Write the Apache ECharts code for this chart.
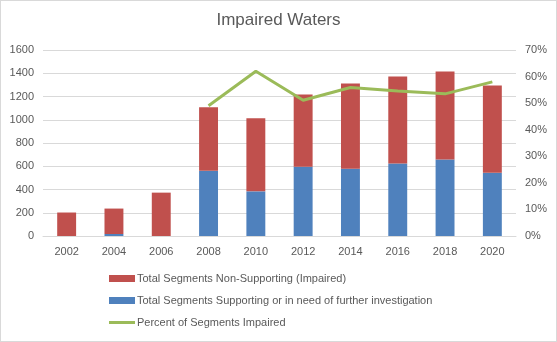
<!DOCTYPE html>
<html><head><meta charset="utf-8">
<script src="https://cdn.jsdelivr.net/npm/echarts@6/dist/echarts.min.js"></script>
<style>html,body{margin:0;padding:0;background:#fff}#c{width:557px;height:342px;box-sizing:border-box;border:1px solid #d9d9d9}</style>
</head><body><div id="c"></div>
<script>
const years = ['2002','2004','2006','2008','2010','2012','2014','2016','2018','2020'];
const nonSupporting = [202, 219, 373, 546, 629, 623, 734, 749, 757, 751];
const supporting = [0, 17, 0, 561, 384, 595, 578, 623, 658, 544];
const percentImpaired = [null, null, null, 0.49, 0.62, 0.511, 0.559, 0.546, 0.535, 0.58];
const leftTicks = {min: 0, max: 1600, interval: 200};
const rightTicks = {min: 0, max: 0.7, interval: 0.1};
const names = ['Total Segments Non-Supporting (Impaired)', 'Total Segments Supporting or in need of further investigation', 'Percent of Segments Impaired'];

const font = 'Liberation Sans, Arial, sans-serif';
const chart = echarts.init(document.getElementById('c'));
chart.setOption({
  animation: false,
  textStyle: {fontFamily: font},
  title: {text: 'Impaired Waters', left: 'center', top: 6, textStyle: {fontFamily: font, fontSize: 17, fontWeight: 'normal', color: '#595959'}},
  grid: {left: 42, right: 40, top: 49, bottom: 105},
  legend: {
    orient: 'vertical', left: 103, top: 267, itemGap: 11, itemWidth: 26, itemHeight: 7,
    data: [{name: names[0], icon: 'rect'}, {name: names[1], icon: 'rect'}, {name: names[2], icon: 'path://M0,0h26v3h-26z'}],
    textStyle: {fontFamily: font, fontSize: 11, color: '#595959', padding: [0,0,0,-3]}
  },
  xAxis: {type: 'category', data: years, axisTick: {show: false},
    axisLine: {lineStyle: {color: '#d9d9d9'}},
    axisLabel: {color: '#595959', fontSize: 11, margin: 10, fontFamily: font}},
  yAxis: [
    {type: 'value', min: leftTicks.min, max: leftTicks.max, interval: leftTicks.interval,
      axisLabel: {color: '#595959', fontSize: 11, margin: 9, fontFamily: font, formatter: v => String(v)},
      splitLine: {lineStyle: {color: '#d9d9d9'}}, axisLine: {show: false}, axisTick: {show: false}},
    {type: 'value', min: rightTicks.min, max: rightTicks.max, interval: rightTicks.interval, position: 'right',
      axisLabel: {color: '#595959', fontSize: 11, margin: 9, fontFamily: font, formatter: v => Math.round(v*100) + '%'},
      splitLine: {show: false}, axisLine: {show: false}, axisTick: {show: false}}
  ],
  series: [
    {name: names[1], type: 'bar', stack: 'a', data: supporting, barWidth: '40%', itemStyle: {color: '#4f81bd'}},
    {name: names[0], type: 'bar', stack: 'a', data: nonSupporting, barWidth: '40%', itemStyle: {color: '#c0504d'}},
    {name: names[2], type: 'line', yAxisIndex: 1, data: percentImpaired, symbol: 'none', lineStyle: {color: '#9bbb59', width: 3}, itemStyle: {color: '#9bbb59'}}
  ]
});
</script></body></html>
